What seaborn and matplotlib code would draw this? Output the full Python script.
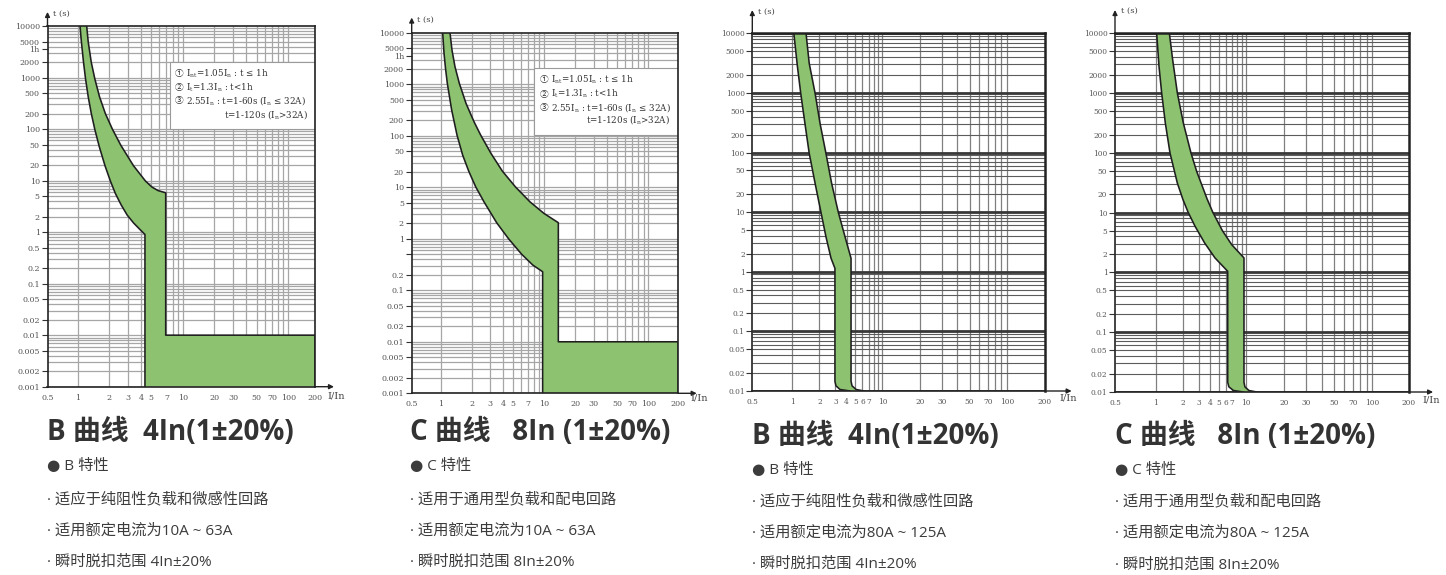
import numpy as np
import matplotlib
matplotlib.use("Agg")
import matplotlib.pyplot as plt
from matplotlib.patches import Rectangle
from matplotlib.ticker import NullLocator
import seaborn as sns

# ---- 数据: 脱扣曲线 (I/In, t 秒) ----
# B 曲线 10A~63A
B1_UP_X = [1.218, 1.259, 1.347, 1.455, 1.613, 1.832, 2.145, 2.568, 3.40, 4.42, 5.10, 5.82, 6.89]
B1_UP_T = [10000, 4955, 1972, 948, 424, 201, 98.6, 48.9, 19.4, 9.8, 7.48, 6.4, 5.8]
B1_LOW_X = [1.052, 1.084, 1.136, 1.187, 1.259, 1.347, 1.455, 1.606, 1.82, 2.048, 2.286, 2.60,
            2.96, 3.41, 3.89, 4.37]
B1_LOW_T = [10000, 4955, 1972, 948, 424, 201, 98.6, 45.3, 19.4, 9.8, 5.6, 3.34,
            2.14, 1.5, 1.14, 0.9]

# C 曲线 10A~63A
C2_UP_X = [1.23, 1.286, 1.375, 1.515, 1.758, 2.101, 2.437, 3.068, 3.95, 5.28, 7.32, 10.0, 13.72]
C2_UP_T = [10000, 4605, 2188, 1038, 425, 187, 103, 45.4, 20.6, 10.2, 5.2, 3.1, 2.05]
C2_LOW_X = [1.045, 1.077, 1.113, 1.159, 1.277, 1.438, 1.632, 1.866, 2.18, 2.626, 3.48, 4.52,
            6.08, 7.77, 9.7]
C2_LOW_T = [10000, 3970, 2030, 1038, 315, 103, 42, 20.6, 10.2, 5.2, 2.05, 1.01,
            0.5, 0.31, 0.229]

# B 曲线 80A~125A
B3_UP_X = [1.42, 1.54, 1.79, 2.03, 2.36, 2.73, 3.24, 3.84, 4.48, 4.48, 4.6, 5.1, 6.24]
B3_UP_T = [10000, 3140, 985, 309, 97, 30.4, 9.9, 3.88, 1.68, 0.0145, 0.0122, 0.0106, 0.01]
B3_LOW_X = [1.04, 1.14, 1.24, 1.38, 1.54, 1.79, 2.08, 2.36, 2.69, 2.97, 2.97, 3.05, 3.38, 4.37]
B3_LOW_T = [10000, 2760, 985, 309, 97, 30.4, 9.9, 3.88, 1.68, 1.14, 0.0145, 0.0122, 0.0106, 0.01]

# C 曲线 80A~125A
C4_UP_X = [1.418, 1.543, 1.74, 2.028, 2.467, 2.852, 3.715, 4.295, 5.5, 6.99, 9.57,
           9.57, 9.8, 10.6, 12.2]
C4_UP_T = [10000, 3581, 994, 313, 98.6, 48.7, 17.0, 10.2, 5.0, 2.9, 1.74,
           0.0145, 0.0122, 0.0106, 0.01]
C4_LOW_X = [1.025, 1.088, 1.165, 1.279, 1.442, 1.74, 2.01, 2.285, 2.734, 3.5, 4.56, 6.31,
            6.31, 6.5, 7.3, 9.4]
C4_LOW_T = [10000, 2770, 994, 313, 98.6, 31, 16.4, 10.2, 5.9, 3.09, 1.74, 1.04,
            0.0145, 0.0122, 0.0106, 0.01]

INST_T = 0.01        # 瞬时脱扣上限时间
X_MAX = 200

# 刻度标签
XT_A = [0.5, 1, 2, 3, 4, 5, 7, 10, 20, 30, 50, 70, 100, 200]
XT_B = [0.5, 1, 2, 3, 4, 5, 6, 7, 10, 20, 30, 50, 70, 100, 200]
YT_A = [10000, 5000, 3600, 2000, 1000, 500, 200, 100, 50, 20, 10, 5, 2, 1, 0.5, 0.2, 0.1,
        0.05, 0.02, 0.01, 0.005, 0.002, 0.001]
YL_1 = ["10000", "5000", "1h", "2000", "1000", "500", "200", "100", "50", "20", "10", "5", "2", "1",
        "0.5", "0.2", "0.1", "0.05", "0.02", "0.01", "0.005", "0.002", "0.001"]
YL_2 = YL_1[:14] + [""] + YL_1[15:]
YT_B = [10000, 5000, 2000, 1000, 500, 200, 100, 50, 20, 10, 5, 2, 1, 0.5, 0.2, 0.1, 0.05, 0.02, 0.01]

LEGEND_LINES = [r"$\mathregular{I_{nt}}$=1.05$\mathregular{I_n}$ : t ≤ 1h",
                r"$\mathregular{I_t}$=1.3$\mathregular{I_n}$ : t<1h",
                r"2.55$\mathregular{I_n}$ : t=1-60s ($\mathregular{I_n}$ ≤ 32A)",
                r"t=1-120s ($\mathregular{I_n}$>32A)"]

TEXT_B1 = ["B 曲线  4In(1±20%)", "● B 特性", "· 适应于纯阻性负载和微感性回路",
           "· 适用额定电流为10A ~ 63A", "· 瞬时脱扣范围 4In±20%"]
TEXT_C2 = ["C 曲线   8In (1±20%)", "● C 特性", "· 适用于通用型负载和配电回路",
           "· 适用额定电流为10A ~ 63A", "· 瞬时脱扣范围 8In±20%"]
TEXT_B3 = ["B 曲线  4In(1±20%)", "● B 特性", "· 适应于纯阻性负载和微感性回路",
           "· 适用额定电流为80A ~ 125A", "· 瞬时脱扣范围 4In±20%"]
TEXT_C4 = ["C 曲线   8In (1±20%)", "● C 特性", "· 适用于通用型负载和配电回路",
           "· 适用额定电流为80A ~ 125A", "· 瞬时脱扣范围 8In±20%"]

GREEN = "#8cc270"
EDGE = "#1f1f1f"
W, H = 1446, 575

sns.set_theme(style="ticks")
plt.rcParams["font.family"] = ["DejaVu Serif", "Noto Sans CJK SC"]
plt.rcParams["mathtext.fontset"] = "dejavuserif"

fig = plt.figure(figsize=(W / 100, H / 100), dpi=100)


def make_scale(knots_px):
    # 原图的横坐标每个十倍程长度不一样, 按十倍程分段的对数刻度
    lk = np.log10([0.5, 1, 10, 100, 200])
    kp = np.asarray(knots_px, float)

    def fwd(v):
        v = np.asarray(v, float)
        return np.interp(np.log10(np.clip(v, 1e-9, None)), lk, kp)

    def inv(p):
        return 10 ** np.interp(np.asarray(p, float), kp, lk)
    return fwd, inv


def add_axes_px(left, top, right, bottom):
    return fig.add_axes([left / W, 1 - bottom / H, (right - left) / W, (bottom - top) / H])


def panel(box, knots, tmin, up_x, up_t, low_x, low_t, xt, yt, yl, dark, arrow_up, arrow_right):
    ax = add_axes_px(*box)
    ax.set_yscale("log")
    ax.set_xscale("function", functions=make_scale(knots))
    ax.set_xlim(0.5, X_MAX)
    ax.set_ylim(tmin, 10000)

    gx = list(range(1, 11)) + list(range(20, 101, 10))
    gy = [m * 10.0 ** k for k in range(int(np.log10(tmin)), 4) for m in range(1, 10)]
    decades = [10.0 ** k for k in range(int(np.log10(tmin)), 5)]
    if dark:
        ax.vlines(gx, tmin, 10000, colors="#808080", lw=0.9, zorder=0.5)
        ax.hlines(gy, 0.5, X_MAX, colors="#5c5c5c", lw=0.8, zorder=0.6)
        ax.hlines(decades, 0.5, X_MAX, colors="#383838", lw=2.0, zorder=0.7)
    else:
        ax.vlines(gx, tmin, 10000, colors="#a6a6a6", lw=0.9, zorder=0.5)
        ax.hlines(gy, 0.5, X_MAX, colors="#a6a6a6", lw=0.9, zorder=0.6)

    # 填充带
    fx = list(up_x) + list(low_x)[::-1]
    ft = list(up_t) + list(low_t)[::-1]
    ax.fill(fx, ft, color=GREEN, lw=0, zorder=2)
    sns.lineplot(x=up_x, y=up_t, sort=False, estimator=None, color=EDGE, lw=1.15, ax=ax, zorder=3)
    sns.lineplot(x=low_x, y=low_t, sort=False, estimator=None, color=EDGE, lw=1.15, ax=ax, zorder=3)

    ax.set_xticks(xt)
    ax.set_xticklabels([("%g" % v) for v in xt])
    ax.xaxis.set_minor_locator(NullLocator())
    ax.set_yticks(yt)
    ax.set_yticklabels(yl)
    ax.yaxis.set_minor_locator(NullLocator())
    fs = 5.3 if dark else 5.8
    ax.tick_params(axis="x", length=0, pad=5, labelsize=fs, labelcolor="#555555")
    ax.tick_params(axis="y", length=4, width=0.8, color="#333333", pad=1.5,
                   labelsize=fs, labelcolor="#555555")
    ax.set_xlabel("")
    ax.set_ylabel("")
    for s in ax.spines.values():
        s.set_color("#222222")
        s.set_linewidth(1.2)
        s.set_zorder(4)
    if dark:
        ax.spines["top"].set_linewidth(1.8)
        ax.spines["right"].set_linewidth(1.8)

    ap = dict(arrowstyle="-|>", lw=1.0, color="#222222", mutation_scale=7, shrinkA=0, shrinkB=0)
    ax.annotate("", xy=(0, 1 + arrow_up), xytext=(0, 1), xycoords="axes fraction",
                arrowprops=ap, annotation_clip=False)
    ax.annotate("", xy=(1 + arrow_right, 0), xytext=(1, 0), xycoords="axes fraction",
                arrowprops=ap, annotation_clip=False)
    return ax


# 四个坐标区 (像素: 左, 上, 右, 下)
ax1 = panel((47.5, 26, 315, 386.7), [47.5, 77.7, 182.7, 288.3, 315], 0.001,
            B1_UP_X + [B1_UP_X[-1], X_MAX, X_MAX], B1_UP_T + [INST_T, INST_T, 0.001],
            B1_LOW_X + [B1_LOW_X[-1]], B1_LOW_T + [0.001],
            XT_A, YT_A, YL_1, False, 0.039, 0.071)
ax2 = panel((411.7, 32.7, 678.3, 393.3), [411.7, 440.7, 544, 648.3, 678.3], 0.001,
            C2_UP_X + [C2_UP_X[-1], X_MAX, X_MAX], C2_UP_T + [INST_T, INST_T, 0.001],
            C2_LOW_X + [C2_LOW_X[-1]], C2_LOW_T + [0.001],
            XT_A, YT_A, YL_2, False, 0.042, 0.069)
ax3 = panel((752.3, 33.3, 1045, 391), [752.3, 792.3, 882.5, 1007, 1045], 0.01,
            B3_UP_X, B3_UP_T, B3_LOW_X, B3_LOW_T,
            XT_B, YT_B, [("%g" % v) for v in YT_B], True, 0.065, 0.091)
ax4 = panel((1115, 33, 1409, 392), [1115, 1155.7, 1245.7, 1372.3, 1409], 0.01,
            C4_UP_X, C4_UP_T, C4_LOW_X, C4_LOW_T,
            XT_B, YT_B, [("%g" % v) for v in YT_B], True, 0.064, 0.082)

# 坐标轴名称
for ax, ty, lx, ly in [(ax1, 1.033, 1.045, -0.025), (ax2, 1.035, 1.047, -0.012),
                       (ax3, 1.06, 1.05, -0.02), (ax4, 1.061, 1.046, -0.022)]:
    ax.text(0.02, ty, "t (s)", transform=ax.transAxes, fontsize=6, color="#444444",
            ha="left", va="center")
    ax.text(lx, ly, "I/In", transform=ax.transAxes, fontsize=7, color="#444444",
            ha="left", va="center")

# 说明框 (左两图)
for ax, bx, by0, by1, xc, xt_, xr, ys in [
        (ax1, 0.458, 0.714, 0.900, 0.477, 0.518, 0.974, [0.867, 0.830, 0.793, 0.756]),
        (ax2, 0.459, 0.716, 0.902, 0.481, 0.521, 0.969, [0.869, 0.830, 0.793, 0.758])]:
    ax.add_patch(Rectangle((bx, by0), 1 - bx, by1 - by0, transform=ax.transAxes,
                           facecolor="white", edgecolor="#9a9a9a", lw=0.8, zorder=2.5))
    for i, (y, s) in enumerate(zip(ys, LEGEND_LINES)):
        if i < 3:
            ax.text(xc, y, "①②③"[i], transform=ax.transAxes, fontsize=6.3, color="#333333",
                    ha="left", va="center", zorder=5, family=["Noto Sans CJK SC"])
            ax.text(xt_, y, s, transform=ax.transAxes, fontsize=6.3, color="#333333",
                    ha="left", va="center", zorder=5)
        else:
            ax.text(xr, y, s, transform=ax.transAxes, fontsize=6.3, color="#333333",
                    ha="right", va="center", zorder=5)

# 下方文字
cjk = ["Open Sans", "DejaVu Sans", "Noto Sans CJK SC"]
for texts, x0, ys in [(TEXT_B1, 47, [432, 467, 500, 531, 562]),
                      (TEXT_C2, 410, [432, 467, 500, 531, 562]),
                      (TEXT_B3, 752, [437, 470, 502, 533, 564]),
                      (TEXT_C4, 1115, [437, 471, 502, 533, 565])]:
    fig.text(x0 / W, 1 - ys[0] / H, texts[0], family=cjk, fontsize=20, fontweight="bold",
             color="#333333", ha="left", va="center")
    for s, y in zip(texts[1:], ys[1:]):
        fig.text(x0 / W, 1 - y / H, s, family=cjk, fontsize=11, color="#3c3c3c",
                 ha="left", va="center")

fig.savefig("out.png", dpi=100)
